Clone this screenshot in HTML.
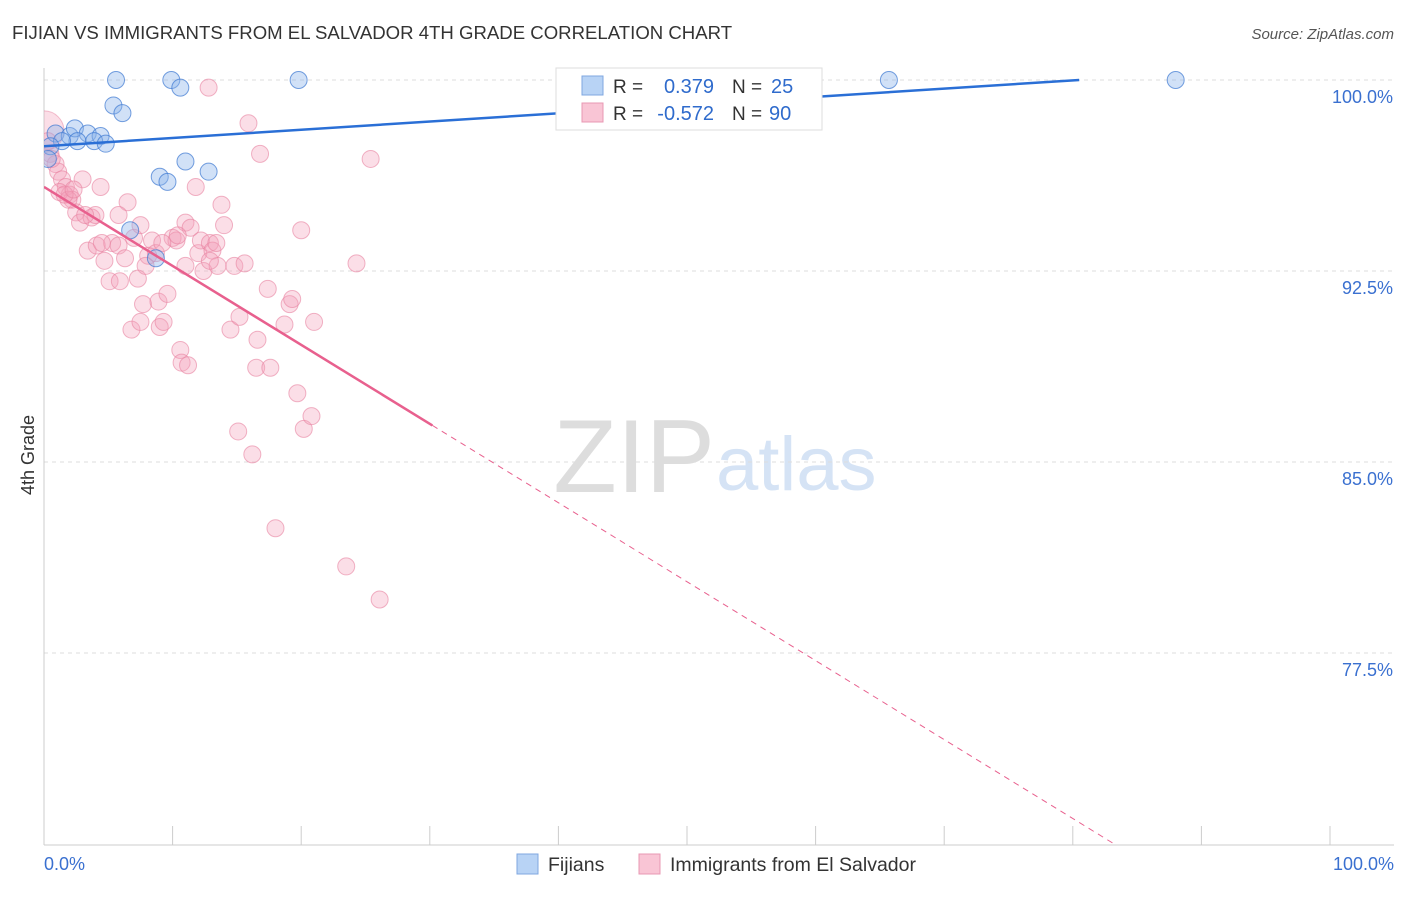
<!DOCTYPE html>
<html><head><meta charset="utf-8"><style>
body{margin:0;background:#fff;width:1406px;height:892px;overflow:hidden;font-family:"Liberation Sans",sans-serif;}
svg text{font-family:"Liberation Sans",sans-serif;}
</style></head><body>
<svg id="chart" width="1406" height="892">
<defs><clipPath id="plotclip"><rect x="44" y="60" width="1360" height="785"/></clipPath></defs>
<text x="12" y="39" font-size="18.6" fill="#333">FIJIAN VS IMMIGRANTS FROM EL SALVADOR 4TH GRADE CORRELATION CHART</text>
<text x="1394" y="39" font-size="15" fill="#555" font-style="italic" text-anchor="end">Source: ZipAtlas.com</text>
<text x="715" y="492" font-size="104" fill="#ddd" text-anchor="end" font-family="Liberation Serif">ZIP</text>
<text x="716" y="490" font-size="76" fill="#d5e3f5">atlas</text>
<text transform="translate(34,455) rotate(-90)" font-size="18" fill="#333" text-anchor="middle">4th Grade</text>
<g id="grid"></g><g id="marks" clip-path="url(#plotclip)"></g>
<g>
<rect x="556" y="68" width="266" height="62" fill="#fff" stroke="#ddd"/>
<rect x="582" y="76" width="21" height="19" fill="#b8d3f5" stroke="#7fa7e0"/>
<rect x="582" y="103" width="21" height="19" fill="#f9c5d5" stroke="#e898b3"/>
<text x="613" y="93" font-size="19" fill="#333">R = </text><text x="714" y="93" font-size="20" fill="#2f6bcc" text-anchor="end">0.379</text>
<text x="732" y="93" font-size="19" fill="#333">N = </text><text x="771" y="93" font-size="20" fill="#2f6bcc">25</text>
<text x="613" y="120" font-size="19" fill="#333">R = </text><text x="714" y="120" font-size="20" fill="#2f6bcc" text-anchor="end">-0.572</text>
<text x="732" y="120" font-size="19" fill="#333">N = </text><text x="769" y="120" font-size="20" fill="#2f6bcc">90</text>
</g>
<g>
<rect x="517" y="854" width="21" height="20" fill="#b8d3f5" stroke="#7fa7e0"/>
<text x="548" y="871" font-size="19.5" fill="#333">Fijians</text>
<rect x="639" y="854" width="21" height="20" fill="#f9c5d5" stroke="#e898b3"/>
<text x="670" y="871" font-size="19.5" fill="#333">Immigrants from El Salvador</text>
</g>
</svg>
<script>
const yTicks=[100,92.5,85,77.5];
const yTickLabels=["100.0%","92.5%","85.0%","77.5%"];
const xTickLabels=["0.0%","100.0%"];
const fijX=[5.6,9.9,10.6,19.8,65.7,88.0,5.4,6.1,0.9,2.0,2.4,3.4,4.4,2.6,3.9,4.8,1.4,0.5,11.0,12.8,9.0,9.6,6.7,8.7,0.3];
const fijY=[100,100,99.7,100,100,100,99.0,98.7,97.9,97.8,98.1,97.9,97.8,97.6,97.6,97.5,97.6,97.4,96.8,96.4,96.2,96.0,94.1,93.0,96.9];
const salX=[0.5,0.9,1.1,1.4,1.7,2.0,2.2,2.5,2.8,3.4,3.7,4.0,4.1,4.4,4.7,5.1,5.3,5.8,5.9,6.3,6.5,5.8,7.0,7.3,6.8,7.5,7.7,8.1,8.4,8.7,8.9,9.0,9.3,9.6,10.0,10.3,10.6,10.7,11.2,11.0,11.0,11.4,11.8,12.0,12.2,12.4,12.8,12.9,13.1,13.4,13.5,13.8,14.0,14.5,14.8,15.1,15.2,15.6,15.9,16.2,16.5,16.6,16.8,17.4,17.6,18.0,18.7,19.1,19.3,19.7,20.0,20.2,20.8,21.0,23.5,24.3,25.4,26.1,1.2,1.9,3.0,3.2,4.5,7.5,7.9,9.2,10.4,12.9,0.3,0.6,1.6,2.3];
const salY=[97.1,96.7,96.4,96.1,95.8,95.5,95.3,94.8,94.4,93.3,94.6,94.7,93.5,95.8,92.9,92.1,93.6,93.5,92.1,93.0,95.2,94.7,93.8,92.2,90.2,90.5,91.2,93.1,93.7,93.2,91.3,90.3,90.5,91.6,93.8,93.7,89.4,88.9,88.8,92.7,94.4,94.2,95.8,93.2,93.7,92.5,99.7,93.6,93.3,93.6,92.7,95.1,94.3,90.2,92.7,86.2,90.7,92.8,98.3,85.3,88.7,89.8,97.1,91.8,88.7,82.4,90.4,91.2,91.4,87.7,94.1,86.3,86.8,90.5,80.9,92.8,96.9,79.6,95.6,95.3,96.1,94.7,93.6,94.3,92.7,93.6,93.9,92.9,97.6,96.9,95.5,95.7];
const bigPoint=[0.0,98.0];
const fijTrend=[97.4,0.0323];
const salTrend=[95.8,-0.31,30.2];
const NS="http://www.w3.org/2000/svg";
const X0=44,X1=1330;
const xs=v=>X0+(X1-X0)*v/100;
const ys=v=>80+(100-v)*25.467;
function mk(tag,attrs,parent){const e=document.createElementNS(NS,tag);for(const k in attrs)e.setAttribute(k,attrs[k]);parent.appendChild(e);return e;}
const grid=document.getElementById('grid'),marks=document.getElementById('marks');
yTicks.forEach((t,i)=>{
 const l=mk('line',{x1:X0,x2:1394,y1:ys(t),y2:ys(t),stroke:'#ddd','stroke-dasharray':'4,4'},grid);
 
 
 const tx=mk('text',{x:1393,y:ys(t)+23,'font-size':18,fill:'#3a70d0','text-anchor':'end'},grid);
 tx.textContent=yTickLabels[i];
 
 
});
const ax=mk('line',{x1:X0,x2:1394,y1:845,y2:845,stroke:'#ccc'},grid);


const ay=mk('line',{x1:X0,x2:X0,y1:68,y2:845,stroke:'#ccc'},grid);


for(let i=1;i<=10;i++){
 const t=mk('line',{x1:xs(i*10),x2:xs(i*10),y1:826,y2:845,stroke:'#ccc'},grid);
 
 
}
[[0,'start',44],[100,'end',1394]].forEach((d,i)=>{
 const tx=mk('text',{x:d[2],y:870,'font-size':18,fill:'#3a70d0','text-anchor':d[1]},grid);
 tx.textContent=xTickLabels[i];
 
 
});
const bp=mk('circle',{cx:xs(bigPoint[0]),cy:ys(bigPoint[1]),r:20,fill:'rgba(244,160,185,0.35)',stroke:'rgba(232,130,160,0.5)'},marks);


salX.forEach((x,i)=>{
 const c=mk('circle',{cx:xs(x),cy:ys(salY[i]),r:8.5,fill:'rgba(244,160,185,0.35)',stroke:'rgba(232,130,160,0.6)'},marks);
 
 
});
fijX.forEach((x,i)=>{
 const c=mk('circle',{cx:xs(x),cy:ys(fijY[i]),r:8.5,fill:'rgba(140,180,235,0.4)',stroke:'rgba(60,120,210,0.7)'},marks);
 
 
});
const fxEnd=(100-fijTrend[0])/fijTrend[1];
const fl=mk('line',{x1:xs(0),y1:ys(fijTrend[0]),x2:xs(fxEnd),y2:ys(100),stroke:'#2a6fd6','stroke-width':2.5},marks);


const s1=mk('line',{x1:xs(0),y1:ys(salTrend[0]),x2:xs(salTrend[2]),y2:ys(salTrend[0]+salTrend[1]*salTrend[2]),stroke:'#e8608e','stroke-width':2.5},marks);


const yEnd=70,xEnd=(yEnd-salTrend[0])/salTrend[1];
const s2=mk('line',{x1:xs(salTrend[2]),y1:ys(salTrend[0]+salTrend[1]*salTrend[2]),x2:xs(xEnd),y2:ys(yEnd),stroke:'#e8608e','stroke-width':1,'stroke-dasharray':'6,5'},marks);


</script>
</body></html>
